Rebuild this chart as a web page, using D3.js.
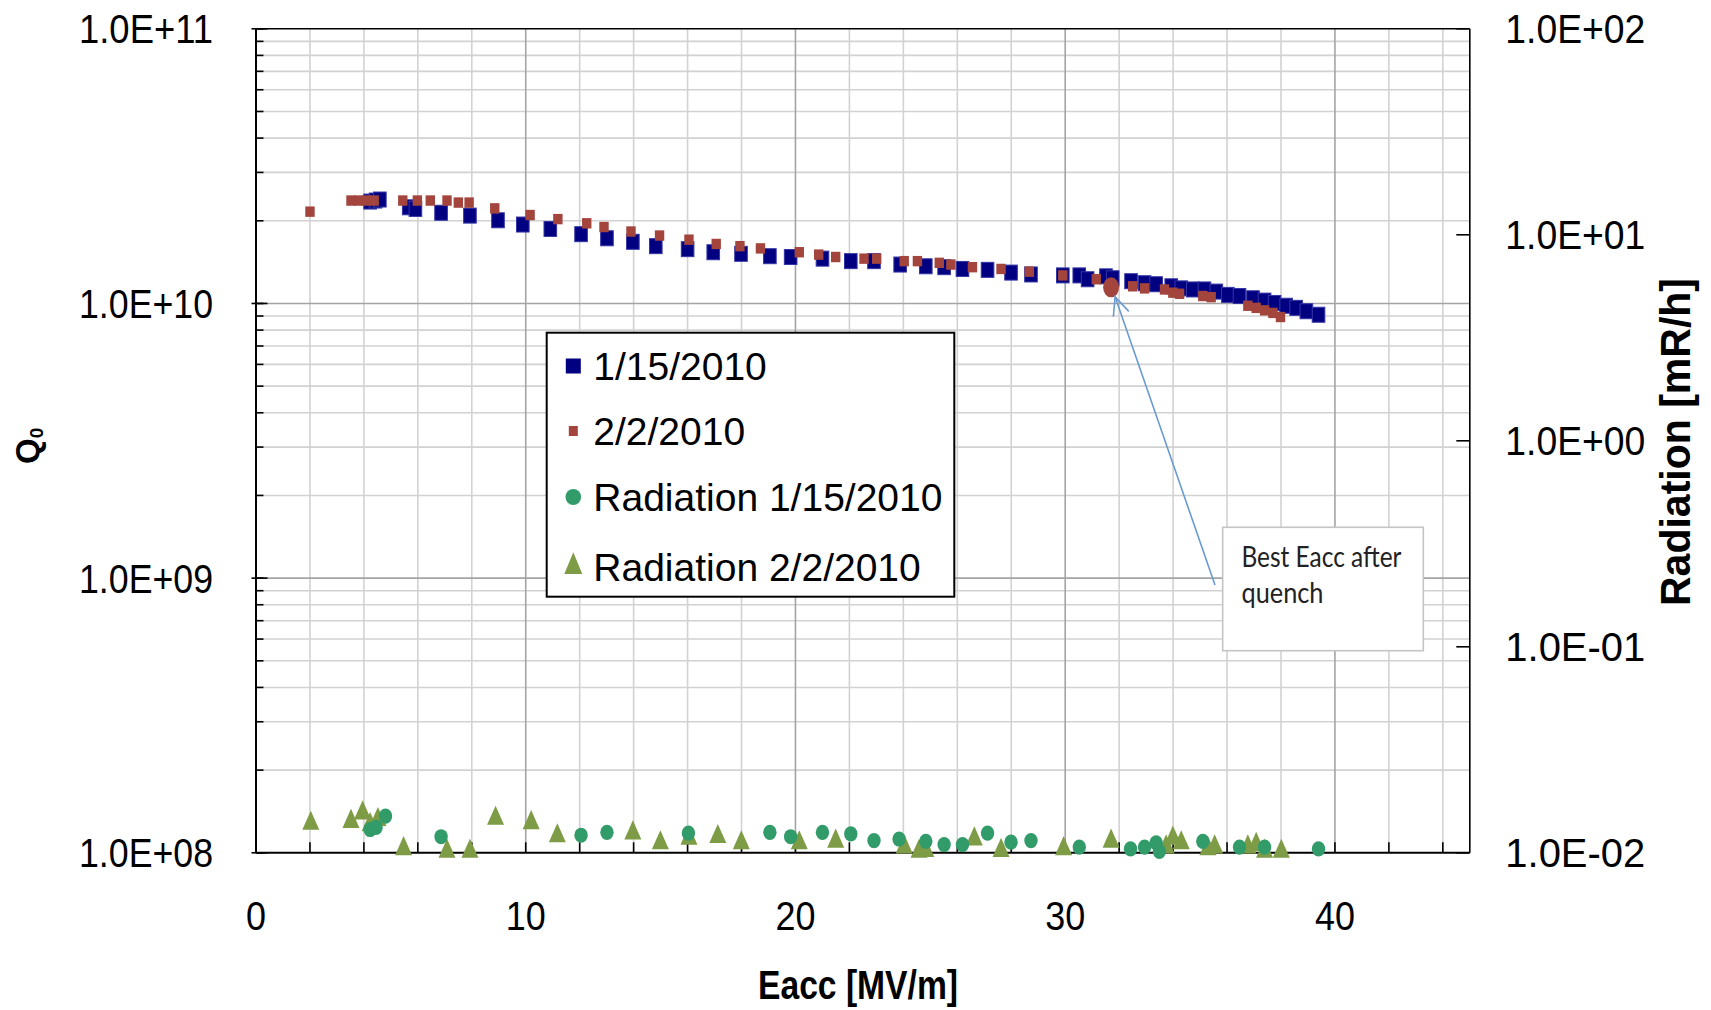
<!DOCTYPE html>
<html><head><meta charset="utf-8">
<script src="https://cdn.jsdelivr.net/npm/d3@7"></script>
<style>body{margin:0;background:#fff;overflow:hidden}</style>
</head><body>
<svg id="c" width="1711" height="1010"></svg>
<script>
// ---------- DATA ----------
const seriesNames = ["1/15/2010", "2/2/2010", "Radiation 1/15/2010", "Radiation 2/2/2010"];

const e115 = [4.25,4.45,4.61,5.68,5.93,6.88,7.95,8.99,9.91,10.93,12.07,13.03,13.99,14.84,16.02,16.97,18.0,19.07,19.84,21.02,22.07,22.93,23.90,24.85,25.53,26.21,27.14,28.01,28.75,29.93,30.54,30.85,31.53,31.78,32.46,32.96,33.39,33.95,34.32,34.75,35.18,35.62,36.05,36.48,36.98,37.41,37.78,38.21,38.58,38.96,39.41];
const q115 = [2.34e10,2.36e10,2.38e10,2.23e10,2.20e10,2.13e10,2.08e10,2.00e10,1.93e10,1.86e10,1.78e10,1.72e10,1.67e10,1.61e10,1.57e10,1.53e10,1.51e10,1.48e10,1.47e10,1.45e10,1.42e10,1.42e10,1.38e10,1.36e10,1.35e10,1.33e10,1.32e10,1.29e10,1.27e10,1.26e10,1.26e10,1.22e10,1.25e10,1.23e10,1.20e10,1.18e10,1.17e10,1.15e10,1.13e10,1.12e10,1.12e10,1.10e10,1.07e10,1.06e10,1.04e10,1.02e10,1.00e10,0.977e10,0.960e10,0.933e10,0.906e10];

const e202 = [2.02,3.54,3.83,4.11,4.40,5.46,6.0,6.48,7.10,7.52,7.92,8.87,10.18,11.21,12.28,12.92,13.92,14.98,16.07,17.08,17.96,18.72,20.16,20.88,21.51,22.56,23.03,24.05,24.54,25.35,25.78,26.58,27.64,28.69,29.93,31.17,32.52,32.96,33.70,34.01,34.26,35.12,35.43,36.79,37.10,37.41,37.72,38.00];
const q202 = [2.15e10,2.36e10,2.36e10,2.36e10,2.36e10,2.36e10,2.36e10,2.36e10,2.36e10,2.32e10,2.32e10,2.21e10,2.09e10,2.02e10,1.95e10,1.89e10,1.82e10,1.76e10,1.70e10,1.64e10,1.61e10,1.58e10,1.53e10,1.50e10,1.47e10,1.45e10,1.45e10,1.42e10,1.42e10,1.40e10,1.38e10,1.35e10,1.33e10,1.30e10,1.26e10,1.22e10,1.15e10,1.13e10,1.12e10,1.09e10,1.08e10,1.06e10,1.05e10,0.977e10,0.960e10,0.940e10,0.920e10,0.889e10];

const bestE = [31.72];
const bestQ = [1.14e10];
const bestLabel = ["Best Eacc after", "quench"];

const eRad115 = [4.25,4.47,4.82,6.88,12.07,13.03,16.05,19.07,19.84,21.02,22.07,22.93,23.86,24.85,25.53,26.21,27.14,28.01,28.75,30.54,32.44,32.96,33.39,33.51,35.12,36.48,37.41,39.41];
const rad115 = [0.0129,0.0132,0.0150,0.0119,0.0121,0.0125,0.0124,0.0125,0.0119,0.0125,0.0123,0.0114,0.0116,0.0113,0.0109,0.0109,0.0124,0.0112,0.0114,0.0106,0.0104,0.0106,0.0111,0.0101,0.0113,0.0106,0.0106,0.0104];

const eRad202 = [2.05,3.54,3.97,4.25,4.54,5.49,7.10,7.95,8.90,10.22,11.19,13.99,15.01,16.07,17.14,18.01,20.16,21.51,24.05,24.60,24.85,26.65,27.64,29.96,31.72,33.76,34.01,34.32,35.31,35.56,36.79,37.10,37.41,38.03];
const rad202 = [0.0138,0.0141,0.0155,0.0136,0.0144,0.0104,0.0101,0.0101,0.0146,0.0139,0.0120,0.0124,0.0111,0.0117,0.0119,0.0111,0.0111,0.0113,0.0106,0.0101,0.0102,0.0116,0.0102,0.0104,0.0113,0.0106,0.0117,0.0111,0.0104,0.0106,0.0106,0.0109,0.0101,0.0101];

const xDomain = [0, 45];
const xTicks = [0, 10, 20, 30, 40];
const xTickLabels = ["0", "10", "20", "30", "40"];
const qDomain = [1e8, 1e11];
const qTicks = [1e8, 1e9, 1e10, 1e11];
const qTickLabels = ["1.0E+08", "1.0E+09", "1.0E+10", "1.0E+11"];
const radDomain = [1e-2, 1e2];
const radTicks = [1e-2, 1e-1, 1e0, 1e1, 1e2];
const radTickLabels = ["1.0E-02", "1.0E-01", "1.0E+00", "1.0E+01", "1.0E+02"];
const xTitle = "Eacc [MV/m]";
const rightTitle = "Radiation [mR/h]";

// ---------- LAYOUT ----------
const PL = 255.5, PR = 1469.3, PT = 28.3, PB = 852.3;
const C_BLUE = "#000080", C_BLUE_EDGE = "#3535a6", C_RED = "#A3453D",
      C_CIRC = "#319B69", C_TRI = "#7E9B46";
const FONT = "'Liberation Sans', Arial, sans-serif";

const svg = d3.select("#c");
const x = d3.scaleLinear().domain(xDomain).range([PL, PR]);
const yQ = d3.scaleLog().domain(qDomain).range([PB, PT]);
const yR = d3.scaleLog().domain(radDomain).range([PB, PT]);

const xMinorAll = d3.range(2, 45, 2);
const xMinor = xMinorAll.filter(v => v % 10 !== 0);
const xMajor = xTicks.filter(v => v > 0);
const qAll = yQ.ticks();
const isDecade = v => Math.abs(Math.log10(v) - Math.round(Math.log10(v))) < 1e-6;
const qMinor = qAll.filter(v => !isDecade(v));
const qMajor = qTicks.slice(1, -1);

// ---------- GRID ----------
function styleGrid(g, color) {
  g.select(".domain").remove();
  g.selectAll("line").attr("stroke", color).attr("stroke-width", 1.6);
}
svg.append("g").attr("transform", `translate(0,${PB})`)
  .call(d3.axisBottom(x).tickValues(xMinor).tickSize(-(PB - PT)).tickFormat(""))
  .call(g => styleGrid(g, "#d2d2d2"));
svg.append("g").attr("transform", `translate(${PL},0)`)
  .call(d3.axisLeft(yQ).tickValues(qMinor).tickSize(-(PR - PL)).tickFormat(""))
  .call(g => styleGrid(g, "#d2d2d2"));
svg.append("g").attr("transform", `translate(0,${PB})`)
  .call(d3.axisBottom(x).tickValues(xMajor).tickSize(-(PB - PT)).tickFormat(""))
  .call(g => styleGrid(g, "#a4a4a4"));
svg.append("g").attr("transform", `translate(${PL},0)`)
  .call(d3.axisLeft(yQ).tickValues(qMajor).tickSize(-(PR - PL)).tickFormat(""))
  .call(g => styleGrid(g, "#a4a4a4"));

// ---------- AXES ----------
function styleAxis(g, w) {
  g.select(".domain").attr("stroke", "#000").attr("stroke-width", w);
  g.selectAll(".tick line").attr("stroke", "#000").attr("stroke-width", 1.6);
}
svg.append("g").attr("transform", `translate(0,${PT})`)
  .call(d3.axisTop(x).tickValues([]).tickSizeOuter(0))
  .call(g => styleAxis(g, 1.4));
svg.append("g").attr("transform", `translate(${PR},0)`)
  .call(d3.axisRight(yR).tickValues(radTicks).tickSize(-13).tickSizeOuter(0).tickFormat(""))
  .call(g => styleAxis(g, 1.6));
svg.append("g").attr("transform", `translate(${PL},0)`)
  .call(d3.axisLeft(yQ).tickValues(qAll).tickSize(-8).tickSizeOuter(0).tickFormat(""))
  .call(g => styleAxis(g, 2));
svg.append("g").attr("transform", `translate(${PL},0)`)
  .call(d3.axisLeft(yQ).tickValues(qTicks).tickSize(4).tickSizeOuter(0).tickFormat(""))
  .call(g => { g.select(".domain").remove(); g.selectAll("line").attr("stroke", "#000").attr("stroke-width", 1.6); });
svg.append("g").attr("transform", `translate(${PL},0)`)
  .call(d3.axisLeft(yQ).tickValues(qTicks).tickSize(-12).tickSizeOuter(0).tickFormat(""))
  .call(g => { g.select(".domain").remove(); g.selectAll("line").attr("stroke", "#000").attr("stroke-width", 1.6); });
svg.append("g").attr("transform", `translate(0,${PB})`)
  .call(d3.axisBottom(x).tickValues(xMinorAll).tickSize(-10).tickSizeOuter(0).tickFormat(""))
  .call(g => styleAxis(g, 2));

// tick labels
svg.append("g").attr("transform", `translate(${PL},0)`)
  .call(d3.axisLeft(yQ).tickValues(qTicks).tickSize(0).tickPadding(42.5).tickFormat((d, i) => qTickLabels[i]))
  .call(g => {
    g.select(".domain").remove();
    g.selectAll("text").attr("font-family", FONT).attr("font-size", 40).attr("fill", "#000")
      .attr("dy", "0.36em").attr("textLength", 134).attr("lengthAdjust", "spacingAndGlyphs");
  });
svg.append("g").attr("transform", `translate(${PR},0)`)
  .call(d3.axisRight(yR).tickValues(radTicks).tickSize(0).tickPadding(36).tickFormat((d, i) => radTickLabels[i]))
  .call(g => {
    g.select(".domain").remove();
    g.selectAll("text").attr("font-family", FONT).attr("font-size", 40).attr("fill", "#000")
      .attr("dy", "0.36em").attr("textLength", 140).attr("lengthAdjust", "spacingAndGlyphs");
  });
svg.append("g").attr("transform", `translate(0,${PB})`)
  .call(d3.axisBottom(x).tickValues(xTicks).tickSize(0).tickFormat((d, i) => xTickLabels[i]))
  .call(g => {
    g.select(".domain").remove();
    g.selectAll("text").attr("font-family", FONT).attr("font-size", 40).attr("fill", "#000")
      .attr("y", 63).attr("dy", "0.36em")
      .attr("textLength", (d, i) => 20 * xTickLabels[i].length).attr("lengthAdjust", "spacingAndGlyphs");
  });

// axis titles
svg.append("text").attr("x", 858).attr("y", 999).attr("text-anchor", "middle")
  .attr("font-family", FONT).attr("font-weight", "bold").attr("font-size", 40)
  .attr("textLength", 200).attr("lengthAdjust", "spacingAndGlyphs").text(xTitle);
svg.append("text").attr("transform", "translate(1690,442) rotate(-90)").attr("text-anchor", "middle")
  .attr("font-family", FONT).attr("font-weight", "bold").attr("font-size", 42)
  .attr("textLength", 328).attr("lengthAdjust", "spacingAndGlyphs").text(rightTitle);
const qlab = svg.append("text").attr("transform", "translate(39,464) rotate(-90)")
  .attr("font-family", FONT).attr("font-weight", "bold").attr("font-size", 33);
qlab.append("tspan").text("Q");
qlab.append("tspan").attr("font-size", 19).attr("dy", 4).text("0");

// ---------- MARKS ----------
const triPath = d3.symbol().type(d3.symbolTriangle).size(125)();
svg.append("g").selectAll("path").data(eRad202).join("path")
  .attr("d", triPath).attr("fill", C_TRI)
  .attr("transform", (d, i) => `translate(${x(d)},${yR(rad202[i])}) scale(1,1.3)`);
svg.append("g").selectAll("ellipse").data(eRad115).join("ellipse")
  .attr("cx", d => x(d)).attr("cy", (d, i) => yR(rad115[i]))
  .attr("rx", 6.7).attr("ry", 7.6).attr("fill", C_CIRC);
svg.append("g").selectAll("rect").data(e115).join("rect")
  .attr("x", d => x(d) - 6.3).attr("y", (d, i) => yQ(q115[i]) - 7.5)
  .attr("width", 12.6).attr("height", 15)
  .attr("fill", C_BLUE).attr("stroke", C_BLUE_EDGE).attr("stroke-width", 1);
svg.append("g").selectAll("rect").data(e202).join("rect")
  .attr("x", d => x(d) - 4.7).attr("y", (d, i) => yQ(q202[i]) - 5.2)
  .attr("width", 9.4).attr("height", 10.4).attr("fill", C_RED);
svg.append("g").selectAll("ellipse").data(bestE).join("ellipse")
  .attr("cx", d => x(d)).attr("cy", (d, i) => yQ(bestQ[i]))
  .attr("rx", 8).attr("ry", 10).attr("fill", C_RED);

// ---------- ANNOTATION ----------
const tipX = x(bestE[0]) + 4, tipY = yQ(bestQ[0]) + 9.5;
const tailX = 1215, tailY = 585;
const ang = Math.atan2(tailY - tipY, tailX - tipX);
const arm = 20, spread = 0.42;
const ann = svg.append("g");
ann.append("path")
  .attr("d", d3.line()([[tailX, tailY], [tipX, tipY]]))
  .attr("stroke", "#6a9bd0").attr("stroke-width", 1.6).attr("fill", "none");
ann.append("path")
  .attr("d", d3.line()([
    [tipX + arm * Math.cos(ang - spread), tipY + arm * Math.sin(ang - spread)],
    [tipX, tipY],
    [tipX + arm * Math.cos(ang + spread), tipY + arm * Math.sin(ang + spread)]]))
  .attr("stroke", "#6a9bd0").attr("stroke-width", 1.6).attr("fill", "none");
ann.append("rect").attr("x", 1222.7).attr("y", 527.3).attr("width", 200.6).attr("height", 123.4)
  .attr("fill", "#fff").attr("stroke", "#c4c4c4").attr("stroke-width", 1.6);
ann.selectAll("text.lab").data(bestLabel).join("text").attr("class", "lab")
  .attr("x", 1241.5).attr("y", (d, i) => 566.5 + i * 36.5)
  .attr("font-family", "Lato, 'Open Sans', sans-serif").attr("font-size", 28).attr("fill", "#222")
  .attr("textLength", (d, i) => i === 0 ? 160 : 82).attr("lengthAdjust", "spacingAndGlyphs")
  .text(d => d);

// ---------- LEGEND ----------
const lg = svg.append("g");
lg.append("rect").attr("x", 546.7).attr("y", 332.7).attr("width", 407.6).attr("height", 264)
  .attr("fill", "#fff").attr("stroke", "#000").attr("stroke-width", 2);
const rowY = [366, 431, 497, 566.7];
const mx = 573.3;
lg.append("rect").attr("x", mx - 7.5).attr("y", rowY[0] - 7.5).attr("width", 15).attr("height", 15).attr("fill", C_BLUE);
lg.append("rect").attr("x", mx - 4.5).attr("y", rowY[1] - 5).attr("width", 9).attr("height", 10).attr("fill", C_RED);
lg.append("ellipse").attr("cx", mx).attr("cy", rowY[2]).attr("rx", 7.8).attr("ry", 8).attr("fill", C_CIRC);
lg.append("path").attr("d", d3.symbol().type(d3.symbolTriangle).size(140)())
  .attr("transform", `translate(${mx},${rowY[3]}) scale(1,1.4)`).attr("fill", C_TRI);
lg.selectAll("text").data(seriesNames).join("text")
  .attr("x", 593.3).attr("y", (d, i) => rowY[i]).attr("dy", "0.36em")
  .attr("font-family", FONT).attr("font-size", 39).attr("fill", "#000").text(d => d);
</script>
</body></html>
